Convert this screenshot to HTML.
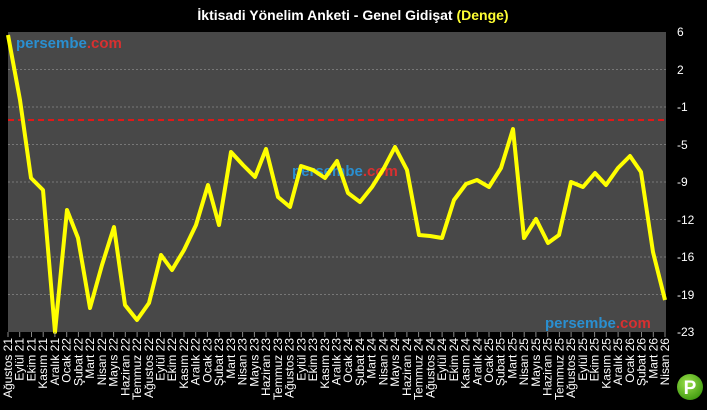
<!DOCTYPE html>
<html><head><meta charset="utf-8"><style>
body{margin:0;background:#000;}
svg{display:block;font-family:"Liberation Sans","DejaVu Sans",sans-serif;}
</style></head><body>
<svg width="707" height="410" viewBox="0 0 707 410">
<defs>
<radialGradient id="pg" cx="0.4" cy="0.35" r="0.7"><stop offset="0" stop-color="#9be04a"/><stop offset="1" stop-color="#3f9a10"/></radialGradient>
</defs>
<rect width="707" height="410" fill="#000"/>
<text x="353" y="20" text-anchor="middle" fill="#fff" font-size="14" font-weight="bold">İktisadi Yönelim Anketi - Genel Gidişat <tspan fill="#ffff33">(Denge)</tspan></text>
<rect x="8" y="32" width="658" height="300" fill="#484848"/>
<g stroke="#777" stroke-dasharray="2,2" stroke-width="1">
<line x1="8" x2="666" y1="69.5" y2="69.5"/><line x1="8" x2="666" y1="107" y2="107"/>
<line x1="8" x2="666" y1="144.5" y2="144.5"/><line x1="8" x2="666" y1="182" y2="182"/>
<line x1="8" x2="666" y1="219.5" y2="219.5"/><line x1="8" x2="666" y1="257" y2="257"/>
<line x1="8" x2="666" y1="294.5" y2="294.5"/>
</g>
<line x1="8" x2="666" y1="120" y2="120" stroke="#e01818" stroke-width="2" stroke-dasharray="6,4"/>
<g fill="#fff" font-size="12">
<text x="677" y="36">6</text><text x="677" y="74">2</text><text x="677" y="111">-1</text>
<text x="677" y="149">-5</text><text x="677" y="186">-9</text><text x="677" y="224">-12</text>
<text x="677" y="261">-16</text><text x="677" y="299">-19</text><text x="677" y="336">-23</text>
</g>
<text x="16" y="48" font-size="15" font-weight="bold" fill="#2a8fd0">persembe<tspan fill="#d83030">.com</tspan></text>
<text x="292" y="176" font-size="15" font-weight="bold" fill="#2a8fd0">persembe<tspan fill="#d83030">.com</tspan></text>
<text x="545" y="328" font-size="15" font-weight="bold" fill="#2a8fd0">persembe<tspan fill="#d83030">.com</tspan></text>
<polyline fill="none" stroke="#ffff00" stroke-width="4" stroke-linejoin="round" points="8,35 20,100 31,178 43,190 55,332 67,210 78,238 90,308 102,265 114,227 125,305 137,320 149,303 161,255 172,270 184,250 196,225 208,185 219,225 231,152 243,165 255,177 266,149 278,197 290,207 301,166 313,170 325,178 337,161 348,193 360,202 372,187 384,168 395,147 407,170 419,235 430,236 442,238 454,200 466,184 477,180 489,187 501,168 513,129 524,238 536,219 548,243 559,235 571,182 583,187 595,173 606,185 618,168 630,156 641,172 653,252 665,300"/>
<g stroke="#888">
<path d="M8 332v5M19.7 332v5M31.5 332v5M43.2 332v5M54.9 332v5M66.7 332v5M78.4 332v5M90.1 332v5M101.9 332v5M113.6 332v5M125.3 332v5M137.1 332v5M148.8 332v5M160.5 332v5M172.2 332v5M184 332v5M195.7 332v5M207.4 332v5M219.2 332v5M230.9 332v5M242.6 332v5M254.4 332v5M266.1 332v5M277.8 332v5M289.6 332v5M301.3 332v5M313 332v5M324.8 332v5M336.5 332v5M348.2 332v5M360 332v5M371.7 332v5M383.4 332v5M395.2 332v5M406.9 332v5M418.6 332v5M430.4 332v5M442.1 332v5M453.8 332v5M465.6 332v5M477.3 332v5M489 332v5M500.7 332v5M512.5 332v5M524.2 332v5M535.9 332v5M547.7 332v5M559.4 332v5M571.1 332v5M582.9 332v5M594.6 332v5M606.3 332v5M618.1 332v5M629.8 332v5M641.5 332v5M653.3 332v5M665 332v5"/>
</g>
<g fill="#fff" font-size="12" text-anchor="end">
<text transform="translate(12,338) rotate(-90)">Ağustos 21</text>
<text transform="translate(23.7,338) rotate(-90)">Eylül 21</text>
<text transform="translate(35.5,338) rotate(-90)">Ekim 21</text>
<text transform="translate(47.2,338) rotate(-90)">Kasım 21</text>
<text transform="translate(58.9,338) rotate(-90)">Aralık 21</text>
<text transform="translate(70.7,338) rotate(-90)">Ocak 22</text>
<text transform="translate(82.4,338) rotate(-90)">Şubat 22</text>
<text transform="translate(94.1,338) rotate(-90)">Mart 22</text>
<text transform="translate(105.9,338) rotate(-90)">Nisan 22</text>
<text transform="translate(117.6,338) rotate(-90)">Mayıs 22</text>
<text transform="translate(129.3,338) rotate(-90)">Haziran 22</text>
<text transform="translate(141.1,338) rotate(-90)">Temmuz 22</text>
<text transform="translate(152.8,338) rotate(-90)">Ağustos 22</text>
<text transform="translate(164.5,338) rotate(-90)">Eylül 22</text>
<text transform="translate(176.2,338) rotate(-90)">Ekim 22</text>
<text transform="translate(188,338) rotate(-90)">Kasım 22</text>
<text transform="translate(199.7,338) rotate(-90)">Aralık 22</text>
<text transform="translate(211.4,338) rotate(-90)">Ocak 23</text>
<text transform="translate(223.2,338) rotate(-90)">Şubat 23</text>
<text transform="translate(234.9,338) rotate(-90)">Mart 23</text>
<text transform="translate(246.6,338) rotate(-90)">Nisan 23</text>
<text transform="translate(258.4,338) rotate(-90)">Mayıs 23</text>
<text transform="translate(270.1,338) rotate(-90)">Haziran 23</text>
<text transform="translate(281.8,338) rotate(-90)">Temmuz 23</text>
<text transform="translate(293.6,338) rotate(-90)">Ağustos 23</text>
<text transform="translate(305.3,338) rotate(-90)">Eylül 23</text>
<text transform="translate(317,338) rotate(-90)">Ekim 23</text>
<text transform="translate(328.8,338) rotate(-90)">Kasım 23</text>
<text transform="translate(340.5,338) rotate(-90)">Aralık 23</text>
<text transform="translate(352.2,338) rotate(-90)">Ocak 24</text>
<text transform="translate(364,338) rotate(-90)">Şubat 24</text>
<text transform="translate(375.7,338) rotate(-90)">Mart 24</text>
<text transform="translate(387.4,338) rotate(-90)">Nisan 24</text>
<text transform="translate(399.2,338) rotate(-90)">Mayıs 24</text>
<text transform="translate(410.9,338) rotate(-90)">Haziran 24</text>
<text transform="translate(422.6,338) rotate(-90)">Temmuz 24</text>
<text transform="translate(434.4,338) rotate(-90)">Ağustos 24</text>
<text transform="translate(446.1,338) rotate(-90)">Eylül 24</text>
<text transform="translate(457.8,338) rotate(-90)">Ekim 24</text>
<text transform="translate(469.6,338) rotate(-90)">Kasım 24</text>
<text transform="translate(481.3,338) rotate(-90)">Aralık 24</text>
<text transform="translate(493,338) rotate(-90)">Ocak 25</text>
<text transform="translate(504.7,338) rotate(-90)">Şubat 25</text>
<text transform="translate(516.5,338) rotate(-90)">Mart 25</text>
<text transform="translate(528.2,338) rotate(-90)">Nisan 25</text>
<text transform="translate(539.9,338) rotate(-90)">Mayıs 25</text>
<text transform="translate(551.7,338) rotate(-90)">Haziran 25</text>
<text transform="translate(563.4,338) rotate(-90)">Temmuz 25</text>
<text transform="translate(575.1,338) rotate(-90)">Ağustos 25</text>
<text transform="translate(586.9,338) rotate(-90)">Eylül 25</text>
<text transform="translate(598.6,338) rotate(-90)">Ekim 25</text>
<text transform="translate(610.3,338) rotate(-90)">Kasım 25</text>
<text transform="translate(622.1,338) rotate(-90)">Aralık 25</text>
<text transform="translate(633.8,338) rotate(-90)">Ocak 26</text>
<text transform="translate(645.5,338) rotate(-90)">Şubat 26</text>
<text transform="translate(657.3,338) rotate(-90)">Mart 26</text>
<text transform="translate(669,338) rotate(-90)">Nisan 26</text>
</g>
<circle cx="690" cy="387" r="13" fill="url(#pg)"/>
<text x="690" y="394" text-anchor="middle" fill="#fff" font-size="19" font-weight="bold">P</text>
</svg>
</body></html>
